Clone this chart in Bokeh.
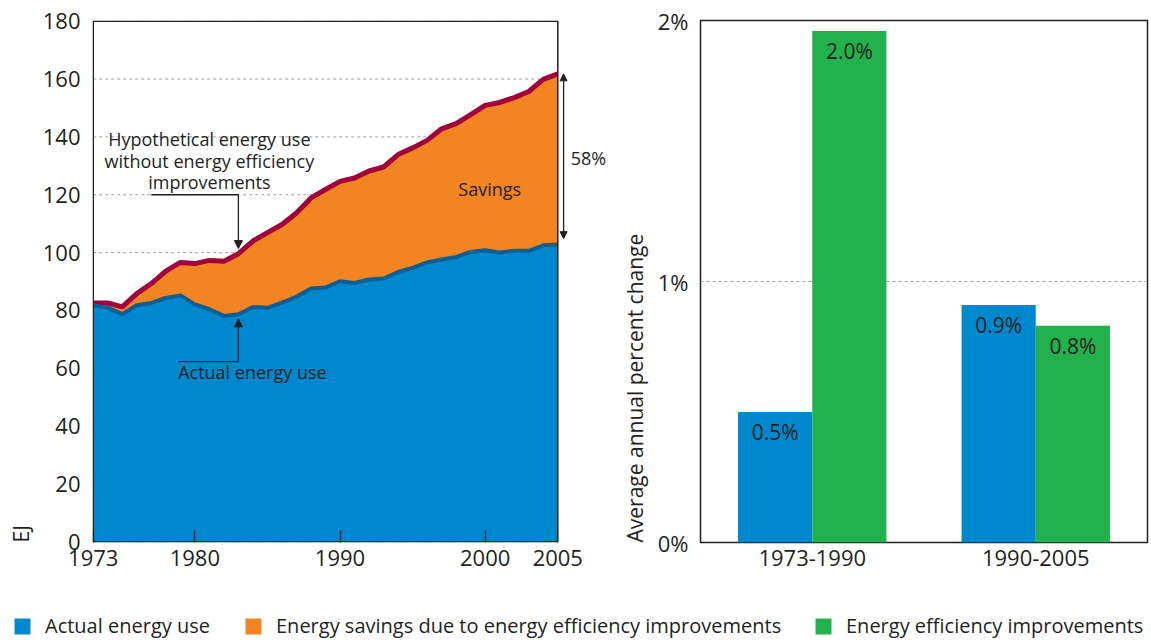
import math
from bokeh.plotting import figure
from bokeh.layouts import column, row
from bokeh.models import (Range1d, FixedTicker, Label, LabelSet, Arrow, NormalHead, BoxAnnotation,
                          Legend, LegendItem, ColumnDataSource, PrintfTickFormatter, FactorRange,
                          Title)
from bokeh.transform import dodge
from bokeh.core.properties import value
from bokeh.embed import file_html
from bokeh.resources import INLINE

# ---------------- data ----------------
years = list(range(1973, 2006))
actual_use = [81.8, 81.0, 78.7, 81.8, 82.6, 84.3, 85.2, 82.1, 80.4, 78.1, 78.7,
              81.2, 80.9, 82.7, 84.7, 87.6, 87.9, 90.1, 89.5, 90.7, 91.0, 93.3,
              94.7, 96.6, 97.6, 98.5, 100.2, 100.8, 100.0, 100.6, 100.6, 102.5, 102.8]
hypothetical_use = [82.6, 82.6, 81.2, 85.8, 89.3, 93.6, 96.6, 96.2, 97.3, 97.0, 99.6,
                    104.0, 106.9, 109.7, 113.7, 118.9, 121.8, 124.6, 125.8, 128.2, 129.6, 133.9,
                    136.2, 138.8, 142.8, 144.6, 147.7, 150.9, 151.9, 153.6, 155.7, 159.9, 161.8]
year_ticks = [1973, 1980, 1990, 2000, 2005]
ej_ticks = list(range(0, 181, 20))

periods = ["1973-1990", "1990-2005"]
actual_change = [0.50, 0.91]
efficiency_change = [1.96, 0.83]
actual_change_labels = ["0.5%", "0.9%"]
efficiency_change_labels = ["2.0%", "0.8%"]
pct_ticks = [0, 1, 2]

legend_labels = ["Actual energy use",
                 "Energy savings due to energy efficiency improvements",
                 "Energy efficiency improvements"]

# ---------------- styles ----------------
FONT = "Open Sans"
TXT = "#231f20"
BLUE = "#0088cf"
BLUE_LINE = "#0c5e96"
ORANGE = "#f28522"
RED_LINE = "#a1003a"
GREEN = "#23b14d"
GRID = "#9e9e9e"

def style_axis(ax, size="22px"):
    ax.major_label_text_font = FONT
    ax.major_label_text_font_size = size
    ax.major_label_text_color = TXT
    ax.minor_tick_line_color = None
    ax.axis_line_color = None

def side_title(p, text, standoff):
    p.add_layout(Title(text=text, align="left", text_font=FONT, text_font_size="21px",
                       text_font_style="normal", text_color=TXT, standoff=standoff), "left")

# ---------------- left chart ----------------
src = ColumnDataSource(dict(year=years, actual=actual_use, hyp=hypothetical_use))
gsrc = ColumnDataSource(dict(y=ej_ticks))

x0, x1 = years[0], years[-1]
p1 = figure(frame_width=519, frame_height=522, x_range=Range1d(x0 - 0.05, x1 + 3.7),
            y_range=Range1d(-0.25, 180.25), output_backend="svg", toolbar_location=None,
            min_border_left=91, min_border_right=0, min_border_top=19, min_border_bottom=34,
            background_fill_color="white", border_fill_color="white")
p1.outline_line_color = None
p1.grid.visible = False

# dotted grid lines limited to the data span
p1.segment(x0=x0, x1=x1, y0="y", y1="y", source=gsrc, line_color=GRID, line_dash="3 3",
           line_width=1, level="underlay")

p1.varea(x="year", y1="actual", y2="hyp", source=src, fill_color=ORANGE)
p1.varea(x="year", y1=0, y2="actual", source=src, fill_color=BLUE)
p1.line(x="year", y="hyp", source=src, line_color=RED_LINE, line_width=5)
p1.line(x="year", y="actual", source=src, line_color=BLUE_LINE, line_width=4)

# plot box around the data span
p1.add_layout(BoxAnnotation(left=x0, right=x1, bottom=0, top=180, fill_color=None,
                            fill_alpha=0, line_color=TXT, line_width=1.5, line_alpha=1))

style_axis(p1.xaxis[0])
style_axis(p1.yaxis[0])
p1.xaxis.ticker = FixedTicker(ticks=year_ticks)
p1.xaxis.major_tick_in = 12
p1.xaxis.major_tick_out = 0
p1.xaxis.major_tick_line_color = TXT
p1.xaxis.major_tick_line_width = 1.3
p1.xaxis.major_label_standoff = 7

p1.yaxis.ticker = FixedTicker(ticks=ej_ticks)
p1.yaxis.major_tick_line_color = None
p1.yaxis.major_tick_out = 0
p1.yaxis.major_tick_in = 0
p1.yaxis.major_label_standoff = 12
side_title(p1, "EJ", 9)

i83 = years.index(1983)

def note(p, text, x, y, align="left", size="18px", **kw):
    p.add_layout(Label(x=x, y=y, text=text, text_align=align, text_baseline="middle",
                       text_font=FONT, text_font_size=size, text_color=TXT, **kw))

note(p1, "Hypothetical energy use\nwithout energy efficiency\nimprovements", 1981.0, 131.7,
     align="center", text_line_height=0.9)
p1.line(x=[1977.0, 1983], y=[120, 120], line_color=TXT, line_width=1.3)
p1.add_layout(Arrow(end=NormalHead(size=8, fill_color=TXT, line_color=TXT),
                    x_start=1983, y_start=120, x_end=1983, y_end=hypothetical_use[i83] + 1.8,
                    line_color=TXT, line_width=1.3))

note(p1, "Actual energy use", 1978.85, 58.7)
p1.line(x=[1978.85, 1983], y=[62.3, 62.3], line_color=TXT, line_width=1.3)
p1.add_layout(Arrow(end=NormalHead(size=8, fill_color=TXT, line_color=TXT),
                    x_start=1983, y_start=62.3, x_end=1983, y_end=actual_use[i83] - 1.6,
                    line_color=TXT, line_width=1.3))

note(p1, "Savings", 1998.15, 121.9)

p1.add_layout(Arrow(start=NormalHead(size=7, fill_color=TXT, line_color=TXT),
                    end=NormalHead(size=7, fill_color=TXT, line_color=TXT),
                    x_start=2005.4, y_start=hypothetical_use[-1], x_end=2005.4,
                    y_end=actual_use[-1] + 2, line_color=TXT, line_width=1.3))
note(p1, "58%", 2005, 132.8, x_offset=13)

# ---------------- right chart ----------------
bsrc = ColumnDataSource(dict(period=periods, actual=actual_change, eff=efficiency_change,
                             alab=actual_change_labels, elab=efficiency_change_labels))

p2 = figure(frame_width=447, frame_height=522, x_range=FactorRange(*periods),
            y_range=Range1d(0, 2), output_backend="svg", toolbar_location=None,
            min_border_left=89, min_border_right=4, min_border_top=20, min_border_bottom=33,
            background_fill_color="white", border_fill_color="white")
p2.outline_line_color = TXT
p2.outline_line_width = 1.5
p2.outline_line_alpha = 1

W = 0.332
p2.vbar(x=dodge("period", -W / 2, range=p2.x_range), top="actual", width=W, source=bsrc,
        fill_color=BLUE, line_color=None)
p2.vbar(x=dodge("period", W / 2, range=p2.x_range), top="eff", width=W, source=bsrc,
        fill_color=GREEN, line_color=None)

for col, off in (("alab", -W / 2), ("elab", W / 2)):
    ycol = "actual" if col == "alab" else "eff"
    p2.add_layout(LabelSet(x=dodge("period", off, range=p2.x_range), y=ycol, text=col,
                           source=bsrc, text_align="center", text_baseline="middle",
                           y_offset=-20, text_font=value(FONT), text_font_size="21px",
                           text_color=TXT))

p2.xgrid.visible = False
p2.ygrid.ticker = FixedTicker(ticks=pct_ticks)
p2.ygrid.grid_line_color = GRID
p2.ygrid.grid_line_dash = "3 3"
p2.ygrid.grid_line_width = 1

style_axis(p2.xaxis[0])
style_axis(p2.yaxis[0])
p2.xaxis.major_tick_line_color = None
p2.xaxis.major_tick_out = 0
p2.xaxis.major_label_standoff = 7
p2.yaxis.ticker = FixedTicker(ticks=pct_ticks)
p2.yaxis.formatter = PrintfTickFormatter(format="%d%%")
p2.yaxis.major_tick_line_color = None
p2.yaxis.major_tick_out = 0
p2.yaxis.major_tick_in = 0
p2.yaxis.major_label_standoff = 12
side_title(p2, "Average annual percent change", 12)

# ---------------- legend strip ----------------
leg = figure(width=1150, height=65, x_range=Range1d(0, 1), y_range=Range1d(0, 1),
             output_backend="svg", toolbar_location=None, min_border=0,
             outline_line_color=None, border_fill_color="white", background_fill_color="white")
leg.axis.visible = False
leg.grid.visible = False
leg_x = [12, 243, 813]
nan = [float("nan")]
for lab, colr, lx in zip(legend_labels, [BLUE, ORANGE, GREEN], leg_x):
    r = leg.quad(left=nan, right=nan, top=nan, bottom=nan, fill_color=colr, line_color=None)
    lg = Legend(items=[LegendItem(label=lab, renderers=[r])], location=(lx, 1),
                orientation="horizontal", glyph_width=20, glyph_height=20, label_standoff=13,
                padding=0, margin=0, border_line_color=None, background_fill_alpha=0,
                label_text_font=FONT, label_text_font_size="20px", label_text_color=TXT,
                label_height=20)
    leg.add_layout(lg, "center")

layout = column(row(p1, p2, spacing=0), leg, spacing=0)
open("out.html", "w").write(file_html(layout, INLINE))
